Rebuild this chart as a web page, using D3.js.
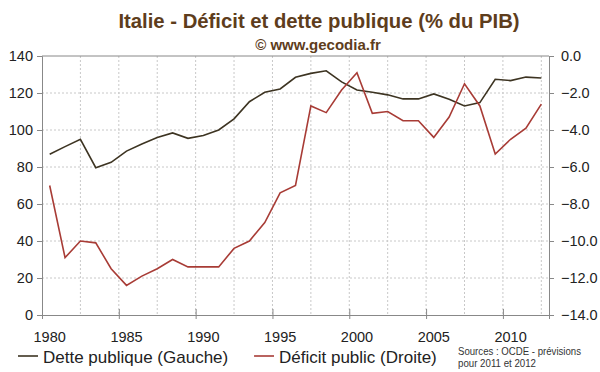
<!DOCTYPE html>
<html><head><meta charset="utf-8">
<script src="https://cdn.jsdelivr.net/npm/d3@7"></script>
<style>body{margin:0;background:#fff}svg{display:block}</style>
</head><body>
<svg id="c" width="600" height="372"></svg>
<script>
const years = d3.range(1980, 2013);
const dette = [86.9,91,95,79.6,82.5,88.6,92.4,95.9,98.4,95.5,97,100,106,115.3,120.4,122.2,128.5,130.6,132,126,121.6,120.4,119,116.8,116.8,119.5,116.6,113,114.8,127.4,126.7,128.6,128.1];
const deficit = [-7.0,-10.9,-10.0,-10.1,-11.5,-12.4,-11.9,-11.5,-11.0,-11.4,-11.4,-11.4,-10.4,-10.0,-9.0,-7.4,-7.0,-2.7,-3.06,-1.84,-0.9,-3.1,-3.0,-3.5,-3.5,-4.4,-3.3,-1.5,-2.7,-5.3,-4.5,-3.9,-2.6];
const leftTicks = [0,20,40,60,80,100,120,140];
const rightTicks = [0,-2,-4,-6,-8,-10,-12,-14];
const xLabelYears = [1980,1985,1990,1995,2000,2005,2010];
const title = "Italie - Déficit et dette publique (% du PIB)";
const subtitle = "© www.gecodia.fr";
const legendNames = ["Dette publique (Gauche)","Déficit public (Droite)"];
const sourceLines = ["Sources : OCDE - prévisions","pour 2011 et 2012"];

const colDette = "#3d3422", colDef = "#a83c36", titleCol = "#5e3d1c";
const L = 42, R = 549, T = 56, B = 315;
const svg = d3.select("#c");
const font = "Liberation Sans, Arial, sans-serif";

const x = d3.scaleBand().domain(years).range([L, R]).padding(0);
const yL = d3.scaleLinear().domain([0,140]).range([B, T]);
const yR = d3.scaleLinear().domain([-14,0]).range([B, T]);
const bw = x.bandwidth();

// gridlines
const g = svg.append("g");
leftTicks.filter(v=>v>0 && v<140).forEach(v=>{
  g.append("line").attr("x1",L).attr("x2",R).attr("y1",yL(v)).attr("y2",yL(v))
   .attr("stroke","#c8c8c8").attr("stroke-dasharray","2,2");
});
for (let k=1;k<=13;k++){
  const xx = L + k*2.5*bw;
  g.append("line").attr("x1",xx).attr("x2",xx).attr("y1",T).attr("y2",B)
   .attr("stroke","#c8c8c8").attr("stroke-dasharray","2,2");
}
// top border
svg.append("line").attr("x1",L).attr("x2",R).attr("y1",T).attr("y2",T).attr("stroke","#888");

// axes
const axL = svg.append("g").attr("transform",`translate(${L},0)`)
  .call(d3.axisLeft(yL).tickValues(leftTicks).tickSize(5).tickPadding(4).tickFormat(d3.format("d")));
const axR = svg.append("g").attr("transform",`translate(${R},0)`)
  .call(d3.axisRight(yR).tickValues(rightTicks).tickSize(5).tickPadding(7).tickFormat(d3.format(".1f")));
const xTickPos = d3.scaleLinear().domain([1980,2013]).range([L,R]);
const axB = svg.append("g").attr("transform",`translate(0,${B})`)
  .call(d3.axisBottom(xTickPos).tickValues(xLabelYears).tickSize(4).tickFormat(""));
axB.selectAll(".tick line").attr("y1",-6);
svg.append("g").attr("transform",`translate(0,${B})`)
  .call(d3.axisBottom(x).tickValues(xLabelYears).tickSize(0).tickPadding(17).tickFormat(d3.format("d")))
  .call(a=>a.select(".domain").remove());
[axL,axR,axB].forEach(a=>{a.selectAll("path,line").attr("stroke","#888");});
svg.selectAll(".tick text").attr("font-family",font).attr("font-size",14.5).attr("fill","#222");

// lines
const cx = (d,i)=>x(years[i])+bw/2;
svg.append("path").datum(dette).attr("fill","none").attr("stroke",colDette).attr("stroke-width",1.6)
  .attr("d", d3.line().x(cx).y(d=>yL(d)));
svg.append("path").datum(deficit).attr("fill","none").attr("stroke",colDef).attr("stroke-width",1.6)
  .attr("d", d3.line().x(cx).y(d=>yR(d)));

// titles
svg.append("text").attr("x",319).attr("y",28).attr("text-anchor","middle").attr("font-family",font)
  .attr("font-weight","bold").attr("font-size",20.3).attr("fill",titleCol).text(title);
svg.append("text").attr("x",318).attr("y",50).attr("text-anchor","middle").attr("font-family",font)
  .attr("font-weight","bold").attr("font-size",15).attr("fill",titleCol).text(subtitle);

// legend
const leg = [{x:18,c:colDette},{x:254,c:colDef}];
leg.forEach((l,i)=>{
  svg.append("line").attr("x1",l.x).attr("x2",l.x+20).attr("y1",356).attr("y2",356).attr("stroke",l.c).attr("stroke-width",1.6);
  svg.append("text").attr("x",l.x+25).attr("y",362.5).attr("font-family",font).attr("font-size",17).attr("fill","#222").text(legendNames[i]);
});
const srcW = [123, 78];
sourceLines.forEach((s,i)=>{
  svg.append("text").attr("x",458).attr("y",354.5+i*12.5).attr("font-family",font).attr("font-size",10.5)
    .attr("textLength",srcW[i]).attr("lengthAdjust","spacingAndGlyphs").attr("fill","#333").text(s);
});
</script>
</body></html>
